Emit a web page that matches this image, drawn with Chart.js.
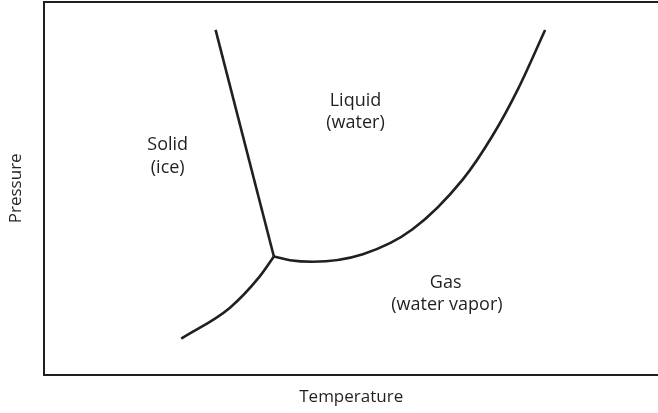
<!DOCTYPE html>
<html>
<head>
<meta charset="utf-8">
<script src="https://cdn.jsdelivr.net/npm/chart.js@4/dist/chart.umd.min.js"></script>
<style>
html,body{margin:0;padding:0;background:#fff;}
#c{display:block;}
</style>
</head>
<body>
<canvas id="c" width="658" height="413"></canvas>
<script>
// ---- data (arbitrary units: temperature 0-100, pressure 0-100) ----
const solidLiquid = [
  {x: 27.9, y: 92.5},
  {x: 37.4, y: 31.7}
];
const solidGas = [
  {x: 22.3, y: 9.65},
  {x: 30.2, y: 17.9},
  {x: 35.1, y: 26.35},
  {x: 37.4, y: 31.7}
];
const liquidGas = [
  {x: 37.4, y: 31.7},
  {x: 40.0, y: 30.7},
  {x: 43.7, y: 30.3},
  {x: 51.9, y: 32.3},
  {x: 60.0, y: 39.0},
  {x: 68.2, y: 52.4},
  {x: 73.1, y: 64.3},
  {x: 77.2, y: 76.7},
  {x: 81.6, y: 92.5}
];
const regionLabels = ["Solid", "(ice)", "Liquid", "(water)", "Gas", "(water vapor)"];
const regionLabelX = [20.1, 20.1, 50.7, 50.7, 65.4, 65.6];
const regionLabelY = [60.3, 54.2, 72.1, 66.2, 23.2, 17.4];
const xTitle = "Temperature";
const yTitle = "Pressure";

const INK = '#231f20';
const FONT = '"Open Sans", "DejaVu Sans", sans-serif';

const labelPlugin = {
  id: 'regionLabels',
  afterDatasetsDraw(chart) {
    const {ctx, scales: {x, y}} = chart;
    ctx.save();
    ctx.fillStyle = INK;
    ctx.font = '18px ' + FONT;
    ctx.textAlign = 'center';
    ctx.textBaseline = 'alphabetic';
    regionLabels.forEach((t, i) => {
      ctx.fillText(t, x.getPixelForValue(regionLabelX[i]), y.getPixelForValue(regionLabelY[i]));
    });
    ctx.restore();
  }
};

const lineStyle = {
  showLine: true,
  borderColor: INK,
  borderWidth: 2.6,
  pointRadius: 0,
  pointHoverRadius: 0,
  fill: false,
  cubicInterpolationMode: 'monotone',
  borderCapStyle: 'butt'
};

new Chart(document.getElementById('c'), {
  type: 'scatter',
  data: {
    datasets: [
      Object.assign({label: 'solid-liquid', data: solidLiquid}, lineStyle, {cubicInterpolationMode: 'default', tension: 0}),
      Object.assign({label: 'solid-gas', data: solidGas}, lineStyle),
      Object.assign({label: 'liquid-gas', data: liquidGas}, lineStyle)
    ]
  },
  options: {
    responsive: false,
    devicePixelRatio: 1,
    animation: false,
    events: [],
    layout: {padding: {left: 0, right: 0, top: 2, bottom: 0}},
    plugins: {legend: {display: false}, tooltip: {enabled: false}},
    scales: {
      x: {
        type: 'linear', position: 'bottom', min: 0, max: 100,
        grid: {display: false, drawTicks: false},
        ticks: {display: false},
        border: {display: true, color: INK, width: 2},
        title: {display: true, text: xTitle, color: INK, font: {family: FONT, size: 17}, padding: {top: 12, bottom: 6}}
      },
      x2: {
        type: 'linear', position: 'top', min: 0, max: 100,
        grid: {display: false, drawTicks: false},
        ticks: {display: false},
        border: {display: true, color: INK, width: 2}
      },
      y: {
        type: 'linear', position: 'left', min: 0, max: 100,
        grid: {display: false, drawTicks: false},
        ticks: {display: false},
        border: {display: true, color: INK, width: 2},
        title: {display: true, text: yTitle, color: INK, font: {family: FONT, size: 17}, padding: {top: 6, bottom: 18}}
      }
    }
  },
  plugins: [labelPlugin]
});
</script>
</body>
</html>
